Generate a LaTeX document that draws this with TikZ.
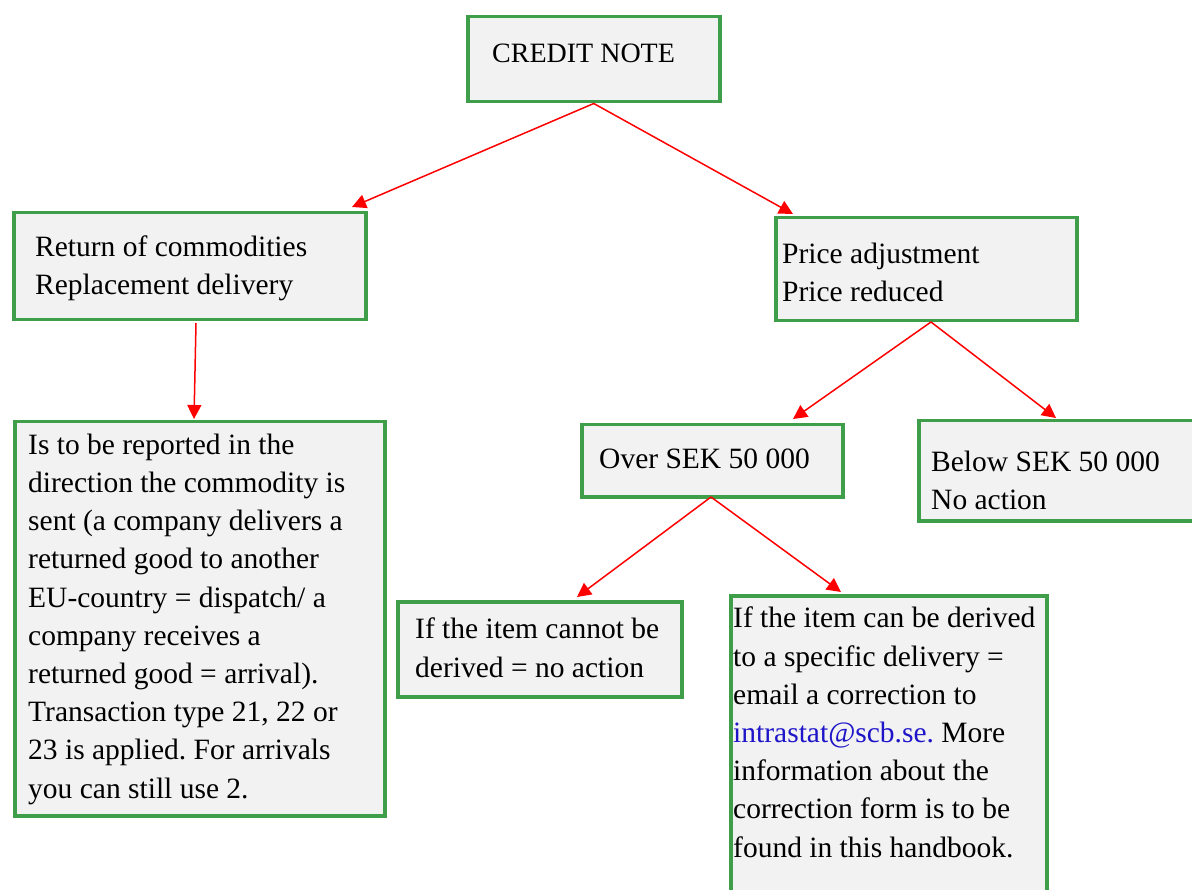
\documentclass[tikz,border=0pt]{standalone}
\usepackage{fontspec}
\setmainfont{Liberation Serif}
\usetikzlibrary{arrows.meta}
\frenchspacing
\definecolor{boxgreen}{RGB}{62,158,74}
\definecolor{boxfill}{RGB}{242,242,242}
\definecolor{linkblue}{RGB}{30,20,200}
\tikzset{
  box/.style={draw=boxgreen, fill=boxfill, line width=3.5pt, rectangle, anchor=north west, inner sep=0pt},
  txt/.style={anchor=base west, inner sep=0pt, align=left, font=\fontsize{29.5}{38.2}\selectfont},
  arr/.style={draw=red, line width=1.5pt, -{Triangle[length=14pt,width=14pt]}}
}
\begin{document}
\begin{tikzpicture}[x=1pt,y=-1pt]
\useasboundingbox (0,0) rectangle (1192,890);
% boxes
\node[box, minimum width=252pt, minimum height=85pt] (credit) at (466,15) {};
\node[box, minimum width=352pt, minimum height=107pt] (ret) at (12,211) {};
\node[box, minimum width=301pt, minimum height=103pt] (price) at (774,216) {};
\node[box, minimum width=370pt, minimum height=394pt] (rep) at (13,420) {};
\node[box, minimum width=261pt, minimum height=72pt] (over) at (580,423) {};
\node[box, minimum width=290pt, minimum height=100pt] (below) at (917,419) {};
\node[box, minimum width=284pt, minimum height=95pt] (cannot) at (396,600) {};
\node[box, minimum width=316pt, minimum height=310pt] (can) at (729,594) {};
% texts (anchor = baseline of the last line)
\node[txt, font=\fontsize{28}{38}\selectfont] (tcredit) at (492,63) {CREDIT NOTE};
\node[txt] (tret) at (35,295) {Return of commodities\\Replacement delivery};
\node[txt] (tprice) at (782,302) {Price adjustment\\Price reduced};
\node[txt] (trep) at (28,798) {Is to be reported in the\\direction the commodity is\\sent (a company delivers a\\returned good to another\\EU-country = dispatch/ a\\company receives a\\returned good = arrival).\\Transaction type 21, 22 or\\23 is applied. For arrivals\\you can still use 2.};
\node[txt] (tover) at (599,469) {Over SEK 50 000};
\node[txt] (tbelow) at (931,510) {Below SEK 50 000\\No action};
\node[txt] (tcannot) at (415,677) {If the item cannot be\\derived = no action};
\node[txt] (tcan) at (733,857) {If the item can be derived\\to a specific delivery =\\email a correction to\\\textcolor{linkblue}{intrastat@scb.se.} More\\information about the\\correction form is to be\\found in this handbook.};
% connector end points
\coordinate (e1) at (352,207);
\coordinate (e2) at (793,214);
\coordinate (s3) at (196,323);
\coordinate (e3) at (194,419);
\coordinate (s4) at (931,322);
\coordinate (e4) at (793,419);
\coordinate (e5) at (1056,418);
\coordinate (s6) at (711,497);
\coordinate (e6) at (577,597);
\coordinate (e7) at (841,592);
% connectors
\draw[arr] (credit.south) -- (e1);
\draw[arr] (credit.south) -- (e2);
\draw[arr] (s3) -- (e3);
\draw[arr] (s4) -- (e4);
\draw[arr] (s4) -- (e5);
\draw[arr] (s6) -- (e6);
\draw[arr] (s6) -- (e7);
\end{tikzpicture}
\end{document}
